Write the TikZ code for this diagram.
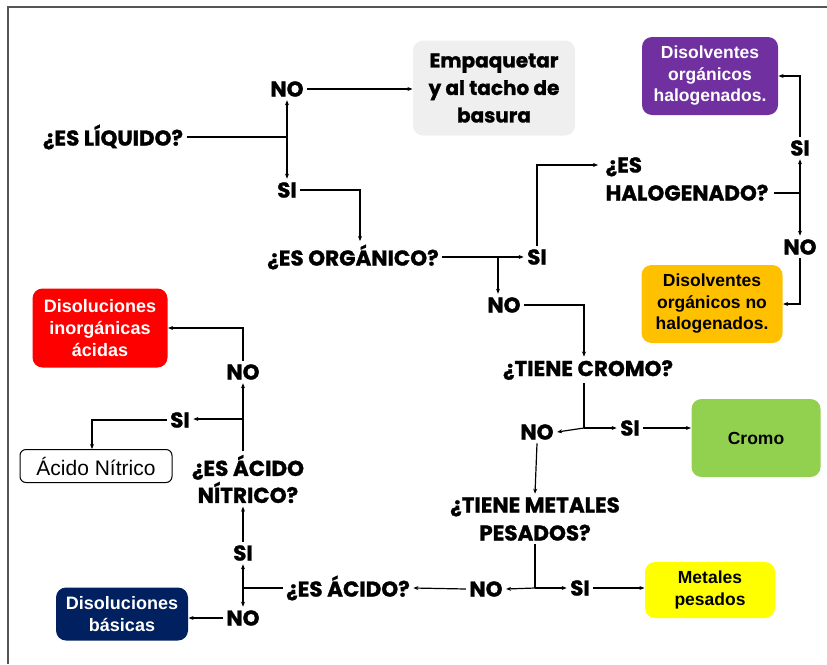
\documentclass[tikz,border=0pt]{standalone}
\usepackage{fontspec}
\setmainfont{Liberation Sans}
\newfontfamily\gfont{Poppins}[BoldFeatures={FakeBold=1.2}]
\usetikzlibrary{arrows.meta,calc}
\definecolor{cgray}{HTML}{EFEFEF}
\definecolor{cpurple}{HTML}{7030A0}
\definecolor{corange}{HTML}{FFC000}
\definecolor{cgreen}{HTML}{92D050}
\definecolor{cyellow}{HTML}{FFFF00}
\definecolor{cnavy}{HTML}{002060}
\definecolor{cred}{HTML}{FF0000}
\definecolor{frame}{HTML}{555555}
\begin{document}
\begin{tikzpicture}[x=1pt,y=-1pt,line width=1.2pt,
  lab/.style={font=\gfont\bfseries\fontsize{21.5}{28}\selectfont, inner sep=3pt, align=center},
  box/.style={rounded corners=10pt, align=center, font=\bfseries\fontsize{17.5}{21.5}\selectfont, inner sep=0pt},
  arr/.style={-{Stealth[length=5pt,width=4pt]}}]
\useasboundingbox (0,0) rectangle (827,664);
\draw[line width=1.5pt, frame] (8,664) -- (8,7) -- (827,7);

% boxes
\node[box, fill=cgray, minimum width=162, minimum height=95, font=\gfont\bfseries\fontsize{20}{27.5}\selectfont] (box1) at (494,88) {Empaquetar\\y al tacho de\\basura};
\node[box, fill=cpurple, text=white, minimum width=136, minimum height=78] (purple) at (710,76) {Disolventes\\orgánicos\\halogenados.};
\node[box, fill=corange, minimum width=141, minimum height=78] (orange) at (712,304) {Disolventes\\orgánicos no\\halogenados.};
\node[box, fill=cgreen, minimum width=129, minimum height=78] (cromo) at (756,438) {Cromo};
\node[box, fill=cyellow, minimum width=130, minimum height=56] (metales) at (710,590) {Metales\\pesados};
\node[box, fill=cnavy, text=white, minimum width=132, minimum height=53, font=\bfseries\fontsize{18}{22}\selectfont] (blue) at (122,614) {Disoluciones\\básicas};
\node[box, fill=cred, text=white, minimum width=135, minimum height=79, font=\bfseries\fontsize{18}{22}\selectfont] (red) at (100,328) {Disoluciones\\inorgánicas\\ácidas};
\node[box, draw=black, line width=1pt, rounded corners=6pt, font=\fontsize{21}{24}\selectfont, minimum width=152, minimum height=33] (nitrico) at (96,466) {Ácido Nítrico};

% labels
\node[lab] (q1) at (113,137) {¿ES LÍQUIDO?};
\node[lab] (no1) at (287,89) {NO};
\node[lab] (si1) at (287,190) {SI};
\node[lab] (q2) at (353,257) {¿ES ORGÁNICO?};
\node[lab] (si2) at (537,257) {SI};
\node[lab] (no2) at (504,305) {NO};
\node[lab, anchor=west, align=left] (q3) at (602,179) {¿ES\\HALOGENADO?};
\node[lab] (si3) at (800,148) {SI};
\node[lab] (no3) at (800,247) {NO};
\node[lab] (q4) at (588,370) {¿TIENE CROMO?};
\node[lab] (no4) at (537,432) {NO};
\node[lab] (si4) at (630,428) {SI};
\node[lab] (q5) at (535,519) {¿TIENE METALES\\PESADOS?};
\node[lab] (no5) at (486,589) {NO};
\node[lab] (si5) at (580,588) {SI};
\node[lab] (q6) at (348,588) {¿ES ÁCIDO?};
\node[lab] (si6) at (243,553) {SI};
\node[lab] (no6) at (243,618) {NO};
\node[lab, font=\gfont\bfseries\fontsize{21.5}{27}\selectfont] (q7) at (248,479) {¿ES ÁCIDO\\NÍTRICO?};
\node[lab] (si7) at (180,420) {SI};
\node[lab] (no7) at (243,372) {NO};

% branch points
\coordinate (b1) at (287,137);
\coordinate (b2) at (498,257);
\coordinate (b3) at (800,193);
\coordinate (b4) at (584,428);
\coordinate (b5) at (535,588);
\coordinate (b6) at (243,588);
\coordinate (b7) at (243,419);

% connectors
\draw (q1.east) -- (b1);
\draw[arr] (b1) -- (b1 |- no1.south);
\draw[arr] (b1) -- (b1 |- si1.north);
\draw[arr] (no1.east) -- (no1.east -| box1.west);
\draw[arr] (si1.east) -| ($(q2.north)+(7,0)$);
\draw[arr] (q2.east) -- (si2.west);
\draw[arr] (b2) -- (b2 |- no2.north);
\draw[arr] (si2.north) |- ($(q3.west)+(-4,-14)$);
\draw ($(q3.east)+(2,14)$) -- (b3);
\draw[arr] (b3) -- (si3.south);
\draw[arr] (b3) -- (no3.north);
\draw[arr] (si3.north) |- (purple.east);
\draw[arr] (no3.south) |- (orange.east);
\draw[arr] (no2.east) -| ($(q4.north)+(-4,0)$);
\draw ($(q4.south)+(-4,0)$) -- (b4);
\draw[arr] (b4) -- (no4.east);
\draw[arr] (b4) -- (si4.west);
\draw[arr] (si4.east) -- (si4.east -| cromo.west);
\draw[arr] (no4.south) -- (q5.north);
\draw (q5.south) -- (b5);
\draw[arr] (b5) -- (no5.east);
\draw[arr] (b5) -- (si5.west);
\draw[arr] (si5.east) -- (si5.east -| metales.west);
\draw[arr] (no5.west) -- (q6.east);
\draw (q6.west) -- (b6);
\draw[arr] (b6) -- (si6.south);
\draw[arr] (b6) -- (no6.north);
\draw[arr] (no6.west) -- (no6.west -| blue.east);
\draw[arr] (si6.north) -- (si6.north |- q7.south);
\draw (b7 |- q7.north) -- (b7);
\draw[arr] (b7) -- (b7 -| si7.east);
\draw[arr] (b7) -- (no7.south);
\draw[arr] (si7.west) -| ($(nitrico.north)+(-4,0)$);
\draw[arr] (no7.north) |- (red.east);
\end{tikzpicture}
\end{document}
